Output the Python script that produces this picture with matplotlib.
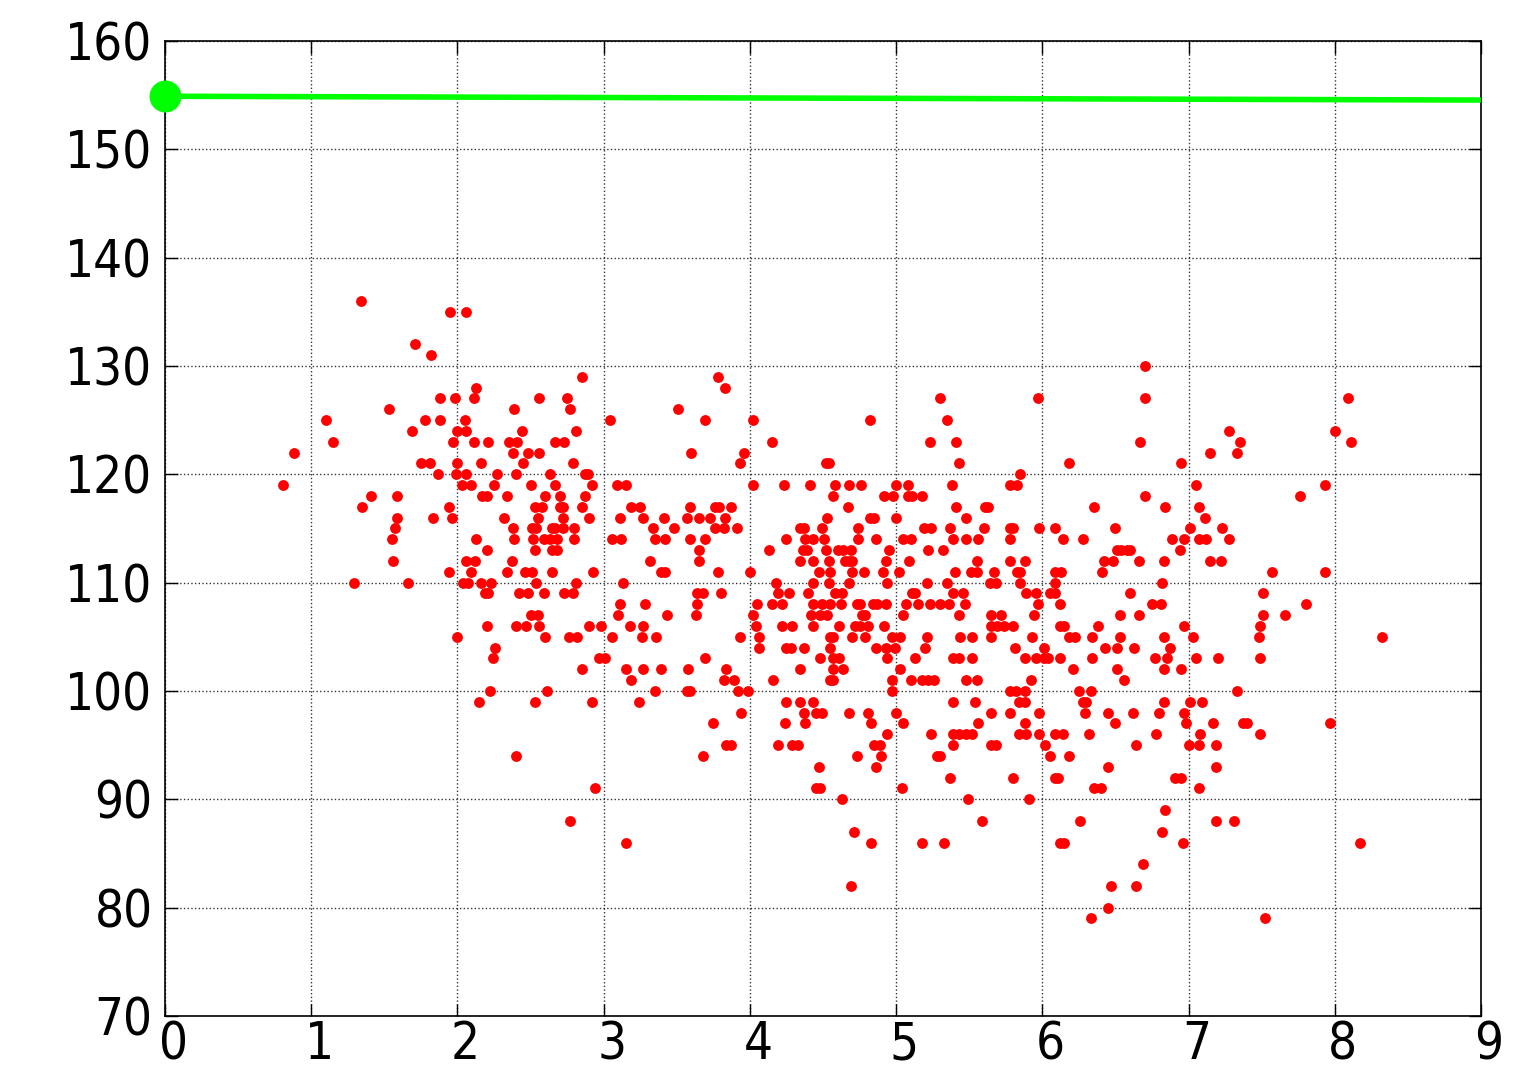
import matplotlib
matplotlib.use("Agg")
import matplotlib.pyplot as plt
import matplotlib.transforms as mtransforms
import numpy as np

# ---- data: x positions grouped by integer y level ----
rows_y = [136, 135, 132, 131, 130, 129, 128, 127, 126, 125, 124, 123, 122, 121, 120,
          119, 118, 117, 116, 115, 114, 113, 112, 111, 110, 109, 108, 107, 106, 105,
          104, 103, 102, 101, 100, 99, 98, 97, 96, 95, 94, 93, 92, 91, 90, 89, 88, 87,
          86, 84, 82, 80, 79]
rows_x = [
    [1.34],
    [1.95, 2.06],
    [1.71],
    [1.82],
    [6.70],
    [2.85, 3.78],
    [2.13, 3.83],
    [1.88, 1.98, 2.11, 2.56, 2.75, 5.30, 5.97, 6.70, 8.09],
    [1.53, 2.39, 2.77, 3.51],
    [1.10, 1.78, 1.88, 2.05, 3.04, 3.69, 4.02, 4.82, 5.35],
    [1.69, 2.00, 2.06, 2.44, 2.81, 7.28, 8.00],
    [1.15, 1.97, 2.11, 2.21, 2.35, 2.41, 2.67, 2.73, 4.15, 5.23, 5.41, 6.67, 7.35, 8.11],
    [0.88, 2.38, 2.48, 2.56, 3.60, 3.96, 7.15, 7.33],
    [1.75, 1.81, 2.00, 2.16, 2.45, 2.79, 3.93, 4.52, 4.54, 5.43, 6.18, 6.95],
    [1.87, 1.99, 2.06, 2.27, 2.40, 2.63, 2.87, 2.89, 5.85],
    [0.81, 2.03, 2.09, 2.25, 2.50, 2.67, 2.92, 3.09, 3.15, 4.02, 4.23, 4.41, 4.58, 4.68,
     4.76, 5.00, 5.08, 5.38, 5.78, 5.83, 7.05, 7.93],
    [1.41, 1.59, 2.17, 2.20, 2.34, 2.60, 2.70, 2.87, 4.57, 4.92, 4.98, 5.08, 5.11, 5.18,
     6.70, 7.76],
    [1.35, 1.94, 2.53, 2.58, 2.70, 2.72, 2.85, 3.19, 3.25, 3.59, 3.76, 3.79, 3.87, 4.67,
     5.41, 5.61, 5.63, 6.35, 6.84, 7.07],
    [1.59, 1.83, 1.96, 2.32, 2.55, 2.72, 2.90, 3.11, 3.27, 3.41, 3.57, 3.65, 3.73, 3.83,
     4.53, 4.82, 4.85, 5.00, 5.48, 7.11],
    [1.57, 2.38, 2.51, 2.54, 2.65, 2.67, 2.72, 2.80, 3.34, 3.48, 3.76, 3.82, 3.91, 4.34,
     4.37, 4.49, 4.74, 5.19, 5.24, 5.37, 5.60, 5.78, 5.80, 5.98, 6.09, 6.50, 7.01, 7.23],
    [1.55, 2.13, 2.39, 2.52, 2.59, 2.63, 2.68, 2.80, 3.06, 3.12, 3.35, 3.42, 3.59, 3.69,
     4.25, 4.38, 4.43, 4.51, 4.74, 4.86, 5.05, 5.10, 5.39, 5.48, 5.56, 5.78, 6.14, 6.28,
     6.89, 6.97, 7.07, 7.12, 7.28],
    [2.20, 2.53, 2.65, 2.68, 3.65, 4.13, 4.36, 4.39, 4.52, 4.60, 4.64, 4.69, 4.95, 5.22,
     5.32, 6.51, 6.54, 6.58, 6.60, 6.94],
    [1.56, 2.06, 2.12, 2.37, 3.32, 3.65, 4.34, 4.43, 4.54, 4.65, 4.68, 4.70, 4.93, 5.09,
     5.55, 5.78, 5.88, 6.42, 6.48, 6.66, 6.83, 7.15, 7.22],
    [1.94, 2.09, 2.34, 2.46, 2.51, 2.65, 2.93, 3.39, 3.42, 3.78, 4.00, 4.47, 4.55, 4.70,
     4.78, 4.91, 5.02, 5.40, 5.51, 5.55, 5.67, 5.83, 5.85, 6.09, 6.13, 6.41, 7.57, 7.93],
    [1.29, 1.66, 2.04, 2.07, 2.16, 2.23, 2.54, 2.81, 3.13, 4.18, 4.43, 4.54, 4.68, 4.94,
     5.21, 5.35, 5.64, 5.68, 5.85, 6.09, 6.82],
    [2.19, 2.21, 2.42, 2.48, 2.59, 2.73, 2.79, 3.64, 3.68, 3.80, 4.19, 4.27, 4.40, 4.58,
     4.63, 5.11, 5.13, 5.39, 5.46, 5.89, 5.96, 6.05, 6.09, 6.60, 7.51],
    [3.11, 3.28, 3.64, 4.05, 4.15, 4.22, 4.43, 4.49, 4.55, 4.62, 4.73, 4.75, 4.84, 4.87,
     4.93, 5.07, 5.15, 5.23, 5.30, 5.36, 5.47, 5.97, 6.12, 6.75, 6.81, 7.80],
    [2.50, 2.55, 3.10, 3.43, 3.63, 4.02, 4.42, 4.48, 4.53, 4.77, 4.79, 5.05, 5.43, 5.65,
     5.72, 5.94, 6.53, 6.66, 7.51, 7.66],
    [2.20, 2.40, 2.47, 2.56, 2.90, 2.98, 3.18, 3.27, 4.04, 4.22, 4.29, 4.43, 4.61, 4.72,
     4.75, 4.81, 4.92, 5.65, 5.69, 5.74, 5.80, 6.12, 6.15, 6.38, 6.97, 7.49],
    [2.00, 2.60, 2.76, 2.82, 3.06, 3.26, 3.36, 3.93, 4.06, 4.55, 4.57, 4.70, 4.79, 4.97,
     5.03, 5.21, 5.44, 5.52, 5.65, 5.93, 6.18, 6.22, 6.34, 6.53, 6.83, 7.03, 7.48, 8.32],
    [2.26, 4.06, 4.25, 4.28, 4.37, 4.55, 4.86, 4.93, 4.99, 5.20, 5.81, 6.01, 6.43, 6.51,
     6.63, 6.87],
    [2.24, 2.97, 3.01, 3.69, 4.48, 4.57, 4.61, 4.94, 5.13, 5.39, 5.43, 5.52, 5.88, 5.96,
     6.01, 6.04, 6.12, 6.34, 6.77, 6.85, 7.05, 7.20, 7.49],
    [2.85, 3.15, 3.27, 3.39, 3.58, 3.84, 4.34, 4.57, 4.64, 5.03, 6.21, 6.51, 6.83, 6.95],
    [3.19, 3.82, 3.89, 4.16, 4.55, 4.57, 4.97, 5.10, 5.18, 5.22, 5.26, 5.48, 5.55, 5.92,
     6.56],
    [2.22, 2.61, 3.35, 3.57, 3.59, 3.92, 3.99, 4.97, 5.78, 5.82, 5.88, 6.25, 6.33, 7.33],
    [2.15, 2.53, 2.92, 3.24, 4.25, 4.34, 4.43, 5.39, 5.54, 5.84, 5.88, 6.28, 6.30, 6.83,
     7.01, 7.09],
    [3.94, 4.37, 4.45, 4.49, 4.68, 4.81, 5.00, 5.65, 5.78, 5.98, 6.29, 6.45, 6.62, 6.80,
     6.97],
    [3.75, 4.24, 4.38, 4.83, 5.05, 5.56, 5.88, 6.50, 6.98, 7.17, 7.37, 7.40, 7.97],
    [4.94, 5.24, 5.39, 5.43, 5.48, 5.52, 5.84, 5.89, 5.98, 6.09, 6.14, 6.32, 6.78, 7.08,
     7.49],
    [3.84, 3.87, 4.19, 4.29, 4.33, 4.85, 4.89, 5.39, 5.65, 5.68, 6.02, 6.64, 7.00, 7.07,
     7.19],
    [2.40, 3.68, 4.73, 4.90, 5.28, 5.30, 6.05, 6.18],
    [4.47, 4.86, 6.45, 7.19],
    [5.37, 5.80, 6.09, 6.11, 6.91, 6.95],
    [2.94, 4.45, 4.48, 5.04, 6.35, 6.40, 7.07],
    [4.63, 5.49, 5.91],
    [6.84],
    [2.77, 5.59, 6.26, 7.19, 7.31],
    [4.71, 6.82],
    [3.15, 4.83, 5.18, 5.33, 6.12, 6.15, 6.96, 8.17],
    [6.69],
    [4.69, 6.47, 6.64],
    [6.45],
    [6.33, 7.52],
]

line_x = [0.0, 8.98]
line_y = [154.9, 154.55]

xticks = [0, 1, 2, 3, 4, 5, 6, 7, 8, 9]
yticks = [70, 80, 90, 100, 110, 120, 130, 140, 150, 160]

scatter_x = np.concatenate([np.array(xs, dtype=float) for xs in rows_x])
scatter_y = np.concatenate([np.full(len(xs), yv, dtype=float) for xs, yv in zip(rows_x, rows_y)])

plt.rcParams['font.family'] = ['DejaVu Sans']
plt.rcParams['font.stretch'] = 'condensed'

fig = plt.figure(figsize=(15.39, 10.70), dpi=100)
ax = fig.add_axes([165/1539, 1 - 1016/1070, (1481-165)/1539, (1016-41)/1070])

ax.plot(scatter_x, scatter_y, 'o', color='red', markersize=7.8, markeredgewidth=0, zorder=3)
ax.plot(line_x, line_y, '-', color='#00ff00', linewidth=4, zorder=4)
ax.plot(line_x[:1], line_y[:1], 'o', color='#00ff00', markersize=23, markeredgewidth=0,
        zorder=5, clip_on=False)

ax.set_xlim(0, 9)
ax.set_ylim(70, 160)
ax.set_xticks(xticks)
ax.set_yticks(yticks)
ax.grid(True, linestyle=':', color='k', linewidth=1.0, alpha=0.8)
ax.tick_params(direction='in', length=9, width=1, top=True, right=True, labelsize=36.5)
ax.tick_params(axis='x', pad=3)
ax.tick_params(axis='y', pad=9)
for s in ax.spines.values():
    s.set_linewidth(1.2)

shift = mtransforms.ScaledTranslation(8/100, 0, fig.dpi_scale_trans)
for lab in ax.get_xticklabels():
    lab.set_transform(lab.get_transform() + shift)

fig.savefig('out.png', dpi=100)
